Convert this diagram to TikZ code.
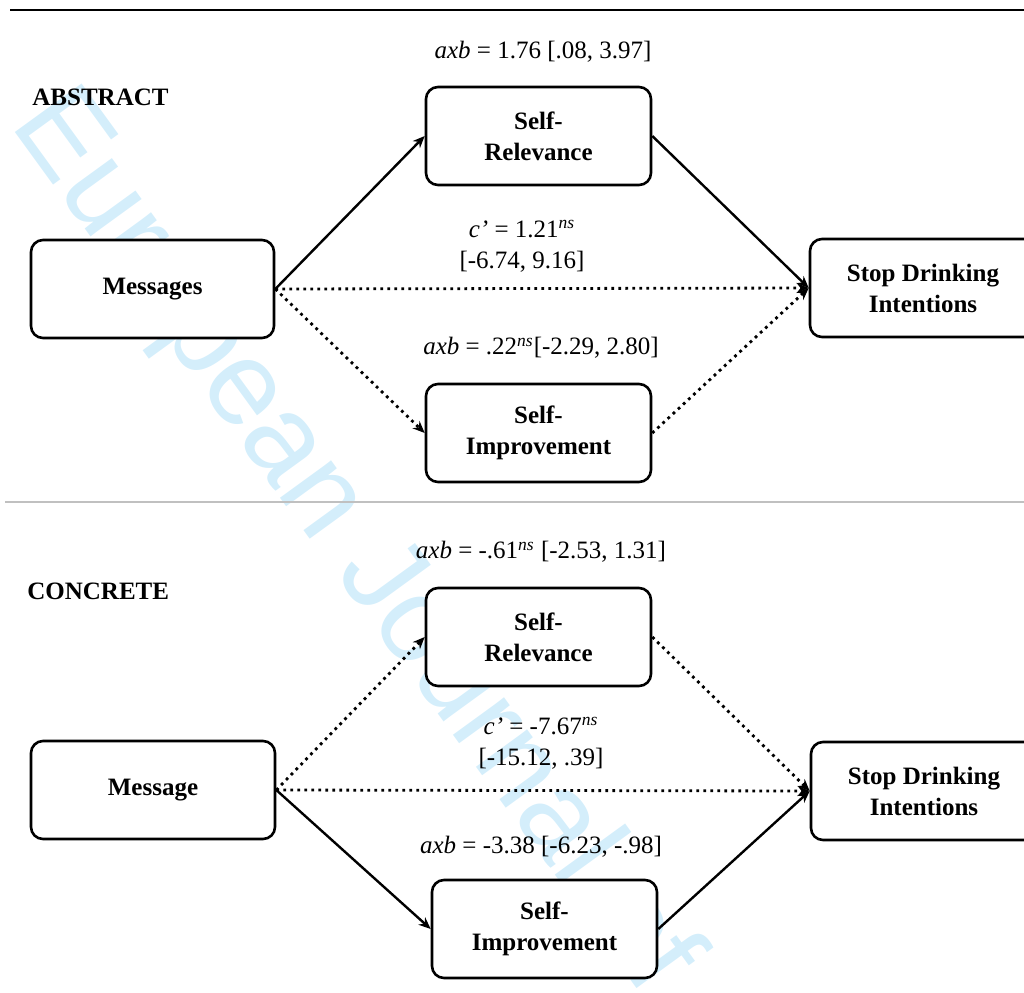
\documentclass[tikz,border=0pt]{standalone}
\usepackage{fontspec}
\setmainfont{Liberation Serif}
\newfontfamily\wmfont{Liberation Sans}
\usetikzlibrary{arrows.meta,positioning,calc}
\definecolor{wmblue}{RGB}{212,238,251}
\definecolor{sepgray}{RGB}{192,192,192}

\begin{document}
\begin{tikzpicture}[x=0.5pt, y=-0.5pt,
  every node/.style={font=\fontsize{12.5}{15.5}\selectfont},
  box/.style={draw=black, fill=white, line width=1.3pt, rounded corners=6pt, align=center,
    font=\fontsize{12.5}{15.5}\selectfont\bfseries, minimum height=49pt, inner sep=2pt},
  lbl/.style={align=center, inner sep=1pt},
  solidarr/.style={line width=1.2pt, -{Stealth[length=6pt, width=5pt]}},
  dotarr/.style={line width=1.4pt, dash pattern=on 1.4pt off 2.1pt, -{Stealth[length=6pt, width=5pt]}}]
  \useasboundingbox (0,0) rectangle (1024,992);

  % watermark
  \node (wm) [font=\wmfont\fontsize{60}{60}\selectfont, text=wmblue, rotate=-54, anchor=base west, inner sep=0pt] at (9,124) {European Journal of};

  \draw [line width=1pt] (10,10) -- (1024,10);
  \draw [sepgray, line width=1pt] (5,502) -- (1024,502);

  % abstract
  \node (abs) [anchor=west, font=\fontsize{12.5}{15.5}\selectfont\bfseries, inner sep=0pt] at (32,97) {ABSTRACT};
  \node (msgA) [box, minimum width=121.5pt] at (152.5,289) {Messages};
  \node (srA) [box, minimum width=112.5pt] at (538.5,136) {Self-\\Relevance};
  \node (siA) [box, minimum width=112.5pt] at (538.5,433) {Self-\\Improvement};
  \node (stopA) [box, minimum width=113pt] at (923,288) {Stop Drinking\\Intentions};

  \node (axbA1) [lbl] at (543,52) {\textit{axb} = 1.76 [.08, 3.97]};
  \node (cA) [lbl] at (522,246) {\textit{c’} = 1.21\textsuperscript{\textit{ns}}\\{}[-6.74, 9.16]};
  \node (axbA2) [lbl] at (541,348) {\textit{axb} = .22\textsuperscript{\textit{ns}}[-2.29, 2.80]};

  \path [solidarr]
  (msgA.east) edge (srA.west)
  (srA.east) edge (stopA.west);
  \path [dotarr]
  (msgA.east) edge (stopA.west)
  (msgA.east) edge (siA.west)
  (siA.east) edge (stopA.west);

  % concrete
  \node (con) [anchor=west, font=\fontsize{12.5}{15.5}\selectfont\bfseries, inner sep=0pt] at (27,591) {CONCRETE};
  \node (msgB) [box, minimum width=122pt] at (153,790) {Message};
  \node (srB) [box, minimum width=112.5pt] at (538.5,637) {Self-\\Relevance};
  \node (siB) [box, minimum width=112.5pt] at (544.5,929) {Self-\\Improvement};
  \node (stopB) [box, minimum width=113pt] at (924,791) {Stop Drinking\\Intentions};

  \node (axbB1) [lbl] at (541,552) {\textit{axb} = -.61\textsuperscript{\textit{ns}} [-2.53, 1.31]};
  \node (cB) [lbl] at (541,743) {\textit{c’} = -7.67\textsuperscript{\textit{ns}}\\{}[-15.12, .39]};
  \node (axbB2) [lbl] at (541,847) {\textit{axb} = -3.38 [-6.23, -.98]};

  \path [dotarr]
  (msgB.east) edge (srB.west)
  (srB.east) edge (stopB.west)
  (msgB.east) edge (stopB.west);
  \path [solidarr]
  (msgB.east) edge (siB.west)
  (siB.east) edge (stopB.west);
\end{tikzpicture}
\end{document}
